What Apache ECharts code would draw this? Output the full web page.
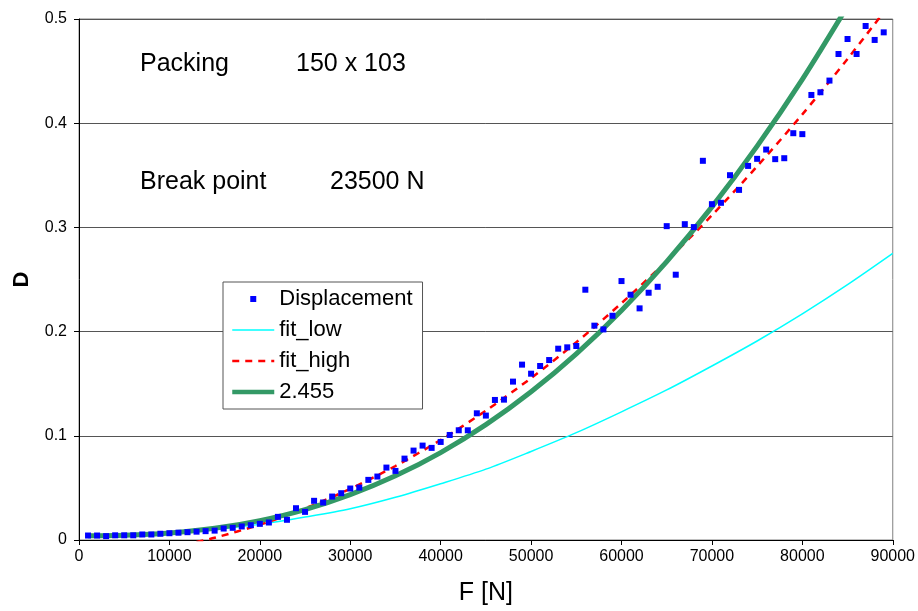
<!DOCTYPE html>
<html>
<head>
<meta charset="utf-8">
<script src="https://cdn.jsdelivr.net/npm/echarts@6/dist/echarts.min.js"></script>
<style>
html,body{margin:0;padding:0;background:#fff;}
#chart{width:918px;height:611px;}
</style>
</head>
<body>
<div id="chart"></div>
<script>
// Measured displacement points (F in N, D)
var dispF = [1000,2000,3000,4000,5000,6000,7000,8000,9000,10000,
  11000,12000,13000,14000,15000,16000,17000,18000,19000,20000,
  21000,22000,23000,24000,25000,26000,27000,28000,29000,30000,
  31000,32000,33000,34000,35000,36000,37000,38000,39000,40000,
  41000,42000,43000,44000,45000,46000,47000,48000,49000,50000,
  51000,52000,53000,54000,55000,56000,57000,58000,59000,60000,
  61000,62000,63000,64000,65000,66000,67000,68000,69000,70000,
  71000,72000,73000,74000,75000,76000,77000,78000,79000,80000,
  81000,82000,83000,84000,85000,86000,87000,88000,89000];
var dispD = [0.0043,0.0043,0.0037,0.0045,0.0045,0.0045,0.0053,0.0053,0.006,0.0065,
  0.007,0.0075,0.008,0.0085,0.009,0.011,0.0117,0.013,0.0142,0.0155,
  0.0168,0.0222,0.0194,0.0305,0.027,0.0376,0.036,0.0417,0.0449,0.0494,
  0.0503,0.0577,0.0609,0.0695,0.0663,0.0781,0.0858,0.0906,0.0884,0.0941,
  0.1008,0.1053,0.1053,0.1216,0.1194,0.1344,0.1347,0.152,0.1683,0.1596,
  0.167,0.1727,0.1836,0.1849,0.1862,0.2402,0.2057,0.2021,0.2152,0.2485,
  0.2354,0.2223,0.2373,0.243,0.3012,0.2546,0.3031,0.3003,0.3639,0.3223,
  0.3236,0.3501,0.336,0.359,0.3658,0.3747,0.3655,0.3664,0.3904,0.3895,
  0.4271,0.4297,0.4409,0.4664,0.4808,0.4664,0.4933,0.4799,0.4872];

// fit curves
var fitF      = [1000,5000,10000,15000,20000,25000,30000,35000,40000,45000,50000,55000,60000,65000,70000,75000,80000,85000,90000];
var fitLowD   = [0.003,0.004,0.006,0.010,0.015,0.022,0.030,0.041,0.054,0.068,0.085,0.103,0.123,0.144,0.167,0.191,0.217,0.245,0.275];
var greenF    = [1000,5000,10000,15000,20000,25000,30000,35000,40000,45000,50000,55000,60000,65000,70000,75000,80000,85000];
var greenD    = [0.004,0.0045,0.0067,0.0112,0.0186,0.0292,0.0435,0.0616,0.0839,0.1107,0.1422,0.1786,0.2203,0.2672,0.3197,0.378,0.4421,0.5124];
var highF     = [13000,15000,20000,25000,30000,35000,40000,45000,50000,55000,60000,65000,70000,75000,80000,85000,90000];
var fitHighD  = [-0.002,0.0021,0.0147,0.0303,0.0491,0.071,0.096,0.1241,0.1554,0.1897,0.2273,0.2679,0.3117,0.3586,0.4085,0.4617,0.5179];

var xTicks = [0,10000,20000,30000,40000,50000,60000,70000,80000,90000];
var yTicks = [0,0.1,0.2,0.3,0.4,0.5];

function pairs(xs, ys){ return xs.map(function(x,i){ return [x, ys[i]]; }); }

var FONT = '"Liberation Sans", Arial, Helvetica, sans-serif';
var chart = echarts.init(document.getElementById('chart'), null, {renderer:'canvas'});
chart.setOption({
  animation:false,
  backgroundColor:'#ffffff',
  textStyle:{fontFamily:FONT},
  grid:{left:79, right:25, top:19, bottom:71, show:true, borderColor:'#808080', borderWidth:1, backgroundColor:'transparent'},
  xAxis:{
    type:'value', min:xTicks[0], max:xTicks[xTicks.length-1], interval:10000,
    name:'F [N]', nameLocation:'middle', nameGap:41,
    nameTextStyle:{fontSize:25, color:'#000', fontFamily:FONT},
    axisLine:{show:true, onZero:false, lineStyle:{color:'#000', width:1}},
    axisTick:{show:true, inside:false, length:5, lineStyle:{color:'#000'}},
    axisLabel:{fontSize:16, color:'#000', margin:9, fontFamily:FONT,
      formatter:function(v){ return String(v); }},
    splitLine:{show:false}
  },
  yAxis:{
    type:'value', min:yTicks[0], max:yTicks[yTicks.length-1], interval:0.1,
    name:'D', nameLocation:'middle', nameGap:46, nameRotate:90,
    nameTextStyle:{fontSize:22, fontWeight:'bold', color:'#000', fontFamily:FONT},
    axisLine:{show:true, onZero:false, lineStyle:{color:'#000', width:1}},
    axisTick:{show:true, inside:false, length:5, lineStyle:{color:'#000'}},
    axisLabel:{fontSize:16, color:'#000', margin:12, fontFamily:FONT,
      formatter:function(v){ return String(Math.round(v*10)/10); }},
    splitLine:{show:true, lineStyle:{color:'#555', width:1}}
  },
  legend:{
    orient:'vertical', left:223, top:282,
    backgroundColor:'#ffffff', borderColor:'#555', borderWidth:1,
    padding:[6,10,6,7], itemWidth:42, itemHeight:14, itemGap:9,
    itemStyle:{opacity:0},
    textStyle:{fontSize:22, color:'#000', fontFamily:FONT},
    data:[
      {name:'Displacement', icon:'path://M0,0M42,14M18,4h6v6h-6z', itemStyle:{opacity:1}},
      {name:'fit_low', lineStyle:{width:1.5}},
      {name:'fit_high', lineStyle:{width:2.5, type:[7,6]}},
      {name:'2.455', lineStyle:{width:4.5}}
    ]
  },
  series:[
    {name:'fit_low', type:'line', data:pairs(fitF, fitLowD), smooth:0.3, showSymbol:false, symbol:'none',
      lineStyle:{color:'#00FFFF', width:1.5}, itemStyle:{color:'#00FFFF'}, z:2},
    {name:'fit_high', type:'line', data:pairs(highF, fitHighD), smooth:0.3, showSymbol:false, symbol:'none',
      lineStyle:{color:'#FF0000', width:2.5, type:[7,6]}, itemStyle:{color:'#FF0000'}, z:3},
    {name:'2.455', type:'line', data:pairs(greenF, greenD), smooth:0.3, showSymbol:false, symbol:'none',
      lineStyle:{color:'#339966', width:5}, itemStyle:{color:'#339966'}, z:4},
    {name:'Displacement', type:'scatter', data:pairs(dispF, dispD), symbol:'rect', symbolSize:6,
      itemStyle:{color:'#0000FF', opacity:1}, z:5}
  ],
  graphic:[
    {type:'text', left:140, top:52, style:{text:'Packing', font:'25px '+FONT, fill:'#000'}},
    {type:'text', left:296, top:52, style:{text:'150 x 103', font:'25px '+FONT, fill:'#000'}},
    {type:'text', left:140, top:170, style:{text:'Break point', font:'25px '+FONT, fill:'#000'}},
    {type:'text', left:330, top:170, style:{text:'23500 N', font:'25px '+FONT, fill:'#000'}}
  ]
});
</script>
</body>
</html>
